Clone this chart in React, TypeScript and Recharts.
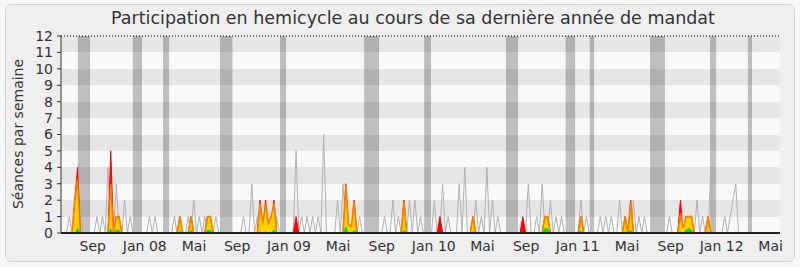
import { Area, CartesianGrid, ComposedChart, ReferenceArea, ReferenceLine, XAxis, YAxis } from 'recharts';

// semaines de la législature (0 = mi-juin 2007)
const WEEKS = 260;

const tickWeeks = [11.5, 30.3, 48.1, 63.7, 82.4, 100.2, 116.0, 134.8, 152.4, 168.2, 186.8, 204.7, 220.5, 238.9, 256.6];
const tickLabels = ['Sep', 'Jan 08', 'Mai', 'Sep', 'Jan 09', 'Mai', 'Sep', 'Jan 10', 'Mai', 'Sep', 'Jan 11', 'Mai', 'Sep', 'Jan 12', 'Mai'];
const yTicks = [0, 1, 2, 3, 4, 5, 6, 7, 8, 9, 10, 11, 12];

// vacances parlementaires
const vacances: [number, number][] = [
  [6.1, 10.5], [26, 29.3], [36.9, 39.1], [57.5, 62], [79.2, 81.4], [109.6, 115], [131.3, 133.8],
  [160.9, 165.3], [182.5, 185.9], [191.2, 192.8], [213, 218.4], [234.7, 236.9], [248.4, 249.9],
];

// [semaine, valeur]
const mediane: [number, number][] = [
  [3, 1], [7, 1], [13, 1], [15, 1], [17, 4], [20, 3], [23, 2], [25, 1], [32, 1], [34, 1], [41, 1],
  [46, 1], [48, 2], [50, 1], [52, 1], [56, 1], [66, 1], [69, 3], [71, 1], [78, 1], [85, 5], [87, 1],
  [89, 1], [91, 1], [93, 1], [95, 6], [100, 2], [102, 3], [108, 1], [117, 1], [120, 2], [122, 1],
  [126, 2], [128, 2], [130, 1], [135, 2], [138, 3], [140, 1], [144, 3], [146, 4], [150, 2], [152, 1],
  [154, 4], [156, 2], [158, 1], [169, 3], [172, 1], [174, 3], [177, 2], [179, 1], [181, 1], [188, 2],
  [190, 1], [195, 1], [197, 1], [199, 1], [202, 2], [207, 2], [209, 1], [211, 1], [220, 1], [230, 2],
  [232, 1], [235, 4], [240, 1], [242, 1], [243, 2], [244, 3],
];
const presences: [number, number][] = [
  [5, 2], [6, 4], [18, 5], [20, 1], [21, 1], [43, 1], [47, 1], [53, 1], [54, 1], [72, 2], [74, 2],
  [77, 2], [85, 1], [103, 3], [106, 2], [124, 2], [137, 1], [149, 1], [167, 1], [175, 1], [176, 1],
  [188, 1], [204, 1], [206, 2], [224, 2], [226, 1], [227, 1], [228, 1], [234, 1],
];
const participations: [number, number][] = [
  [5, 2], [6, 3.3], [18, 3], [20, 1], [21, 1], [43, 1], [47, 1], [53, 1], [54, 1], [72, 1.8], [73, 0.6],
  [74, 1.8], [75, 0.6], [76, 1], [77, 1.8], [103, 2.9], [104, 0.5], [105, 0.4], [106, 1.9], [124, 1.9],
  [149, 1], [175, 1], [176, 1], [188, 1], [204, 1], [206, 1.9], [224, 1.2], [225, 0.3], [226, 1],
  [227, 1], [228, 1], [234, 1],
];
const questions: [number, number][] = [
  [6, 0.35], [18, 0.3], [20, 0.2], [21, 0.2], [43, 0.1], [47, 0.2], [53, 0.2], [54, 0.2], [72, 0.1],
  [74, 0.1], [77, 0.25], [103, 0.45], [106, 0.2], [124, 0.2], [149, 0.1], [175, 0.3], [176, 0.3],
  [188, 0.15], [204, 0.1], [206, 0.2], [224, 0.1], [226, 0.2], [227, 0.3], [228, 0.2], [234, 0.1],
];

function buildData() {
  const rows = Array.from({ length: WEEKS }, (_, w) => ({ w, mediane: 0, presences: 0, participations: 0, questions: 0 }));
  const put = (list: [number, number][], key: 'mediane' | 'presences' | 'participations' | 'questions') => {
    list.forEach(([w, v]) => { rows[w][key] = v; });
  };
  put(mediane, 'mediane');
  put(presences, 'presences');
  put(participations, 'participations');
  put(questions, 'questions');
  return rows;
}

const data = buildData();
const font = '"DejaVu Sans", Verdana, sans-serif';

export default function App() {
  return (
    <div style={{ position: 'absolute', left: 0, top: 0, width: 800, height: 267, background: '#f7f7f7', fontFamily: font }}>
      <div style={{ position: 'absolute', left: 5, top: 4, width: 788, height: 256, background: '#efefef', border: '1px solid #d6d6d6', borderRadius: 6 }} />
      <div style={{ position: 'absolute', left: 0, top: 8, width: 826, textAlign: 'center', fontSize: 17.5, color: '#333', whiteSpace: 'nowrap' }}>
        Participation en hemicycle au cours de sa dernière année de mandat
      </div>
      <div style={{ position: 'absolute', left: 17.5, top: 134, transform: 'translate(-50%, -50%) rotate(-90deg)', fontSize: 14, color: '#333', whiteSpace: 'nowrap' }}>
        Séances par semaine
      </div>
      <div style={{ position: 'absolute', left: 0, top: 0 }}>
        <ComposedChart width={800} height={267} data={data} margin={{ top: 36, right: 20, left: 21, bottom: 14 }}>
          <CartesianGrid vertical={false} stroke="none" horizontalFill={['#e6e6e6', '#f9f9f9']} fillOpacity={1} />
          {vacances.map(([a, b], i) => (
            <ReferenceArea key={i} x1={a} x2={b} y1={0} y2={12} fill="#000" fillOpacity={0.23} stroke="none" />
          ))}
          <ReferenceLine y={12} stroke="#000" strokeDasharray="1 2" />
          <XAxis dataKey="w" type="number" domain={[0, WEEKS]} ticks={tickWeeks} interval={0} allowDataOverflow
            tickFormatter={(v: number) => tickLabels[tickWeeks.indexOf(v)] ?? ''}
            tickLine={false} tickMargin={2} axisLine={{ stroke: '#222', strokeWidth: 2 }}
            tick={{ fontSize: 14, fill: '#333', fontFamily: font }} height={20} />
          <YAxis type="number" domain={[0, 12]} ticks={yTicks} interval={0} width={40} tickSize={4} tickMargin={4}
            axisLine={{ stroke: '#333' }} tickLine={{ stroke: '#333' }}
            tick={{ fontSize: 14, fill: '#333', fontFamily: font }} />
          <Area type="linear" dataKey="mediane" stroke="#b2b2b2" strokeWidth={1} fill="none" fillOpacity={0} isAnimationActive={false} dot={false} activeDot={false} />
          <Area type="linear" dataKey="presences" stroke="#ff0000" strokeWidth={1} fill="#ff0000" fillOpacity={1} isAnimationActive={false} dot={false} activeDot={false} />
          <Area type="linear" dataKey="participations" stroke="#ff7a00" strokeWidth={1.6} fill="#ffd200" fillOpacity={1} isAnimationActive={false} dot={false} activeDot={false} />
          <Area type="linear" dataKey="questions" stroke="none" fill="#00e600" fillOpacity={1} isAnimationActive={false} dot={false} activeDot={false} />
        </ComposedChart>
      </div>
    </div>
  );
}
